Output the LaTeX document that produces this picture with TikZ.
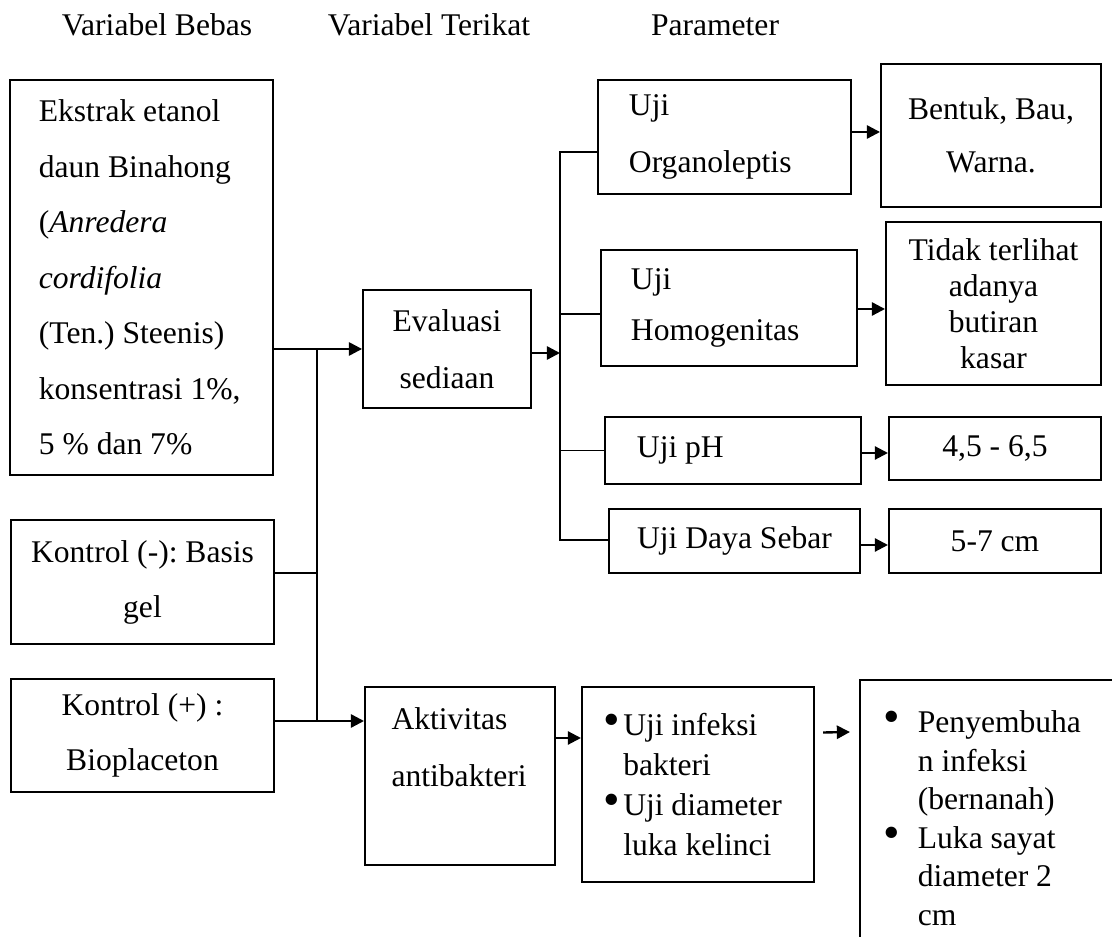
\documentclass[tikz,border=0pt]{standalone}
\usepackage{fontspec}
\setmainfont{Liberation Serif}
\usetikzlibrary{arrows.meta}
\newcommand{\butir}[1]{\makebox[#1][l]{\scalebox{1.5}{\textbullet}}}
\frenchspacing

\begin{document}
\begin{tikzpicture}[x=0.38pt, y=-0.38pt,
  kotak/.style={draw, line width=0.75pt, inner sep=0pt, font=\fontsize{12}{#1}\selectfont},
  kotak/.default=14pt,
  judul/.style={font=\fontsize{12}{14}\selectfont, inner sep=0pt},
  garis/.style={line width=0.6pt},
  panah/.style={line width=0.9pt, -{Triangle[length=5pt,width=5pt]}}]

  \useasboundingbox (0,0) rectangle (1112,937);
  \clip (0,0) rectangle (1112,937);

  % judul kolom
  \node[judul] (hBebas) at (157,25) {Variabel Bebas};
  \node[judul] (hTerikat) at (429,25) {Variabel Terikat};
  \node[judul] (hParam) at (715,25) {Parameter};

  % variabel bebas
  \node[kotak=21.1pt, minimum width=99.9pt, minimum height=150.1pt, text width=78pt, align=flush left] (ekstrak) at (141.5,277.5)
    {Ekstrak etanol\\daun Binahong\\(\textit{Anredera}\\\textit{cordifolia}\\(Ten.) Steenis)\\konsentrasi 1\%,\\5 \% dan 7\%};
  \node[kotak=20.9pt, minimum width=99.9pt, minimum height=47.1pt, align=flush center] (kmin) at (142.5,582) {Kontrol (-): Basis\\gel};
  \node[kotak=20.9pt, minimum width=99.9pt, minimum height=42.9pt, align=flush center] (kplus) at (142.5,735.5) {Kontrol (+) :\\Bioplaceton};

  % variabel terikat
  \node[kotak=21.7pt, minimum width=63.8pt, minimum height=44.8pt, align=flush center] (eval) at (447,349) {Evaluasi\\sediaan};
  \node[kotak=21.7pt, minimum width=72.2pt, minimum height=67.6pt, text width=52pt, align=flush left] (aktiv) at (460,776) {Aktivitas\\antibakteri\\\mbox{}};

  % uji sediaan
  \node[kotak=21.7pt, minimum width=96.1pt, minimum height=43.3pt, text width=72.6pt, align=flush left] (organo) at (724.5,137) {Uji\\Organoleptis};
  \node[kotak=19.4pt, minimum width=97.3pt, minimum height=44.1pt, text width=74.5pt, align=flush left] (homog) at (729,308) {Uji\\Homogenitas};
  \node[kotak, minimum width=97.3pt, minimum height=25.5pt, text width=73pt, align=flush left] (ph) at (733,450.5) {Uji pH};
  \node[kotak, minimum width=95.4pt, minimum height=24.3pt] (sebar) at (734.5,541) {Uji Daya Sebar};
  \node[kotak=15.2pt, minimum width=88.2pt, minimum height=74.1pt, text width=72pt, align=flush left] (ujiinf) at (698,784.5)
    {\butir{7.6pt}Uji infeksi\\\hspace*{7.6pt}bakteri\\\butir{7.6pt}Uji diameter\\\hspace*{7.6pt}luka kelinci};

  % parameter
  \node[kotak=20.1pt, minimum width=83.6pt, minimum height=54.3pt, align=flush center] (bentuk) at (991,135.5) {Bentuk, Bau,\\Warna.};
  \node[kotak=13.7pt, minimum width=81.7pt, minimum height=61.9pt, align=flush center] (tidak) at (993.5,303.5) {Tidak terlihat\\adanya\\butiran\\kasar};
  \node[kotak, minimum width=80.6pt, minimum height=23.9pt] (phres) at (995,448.5) {4,5 - 6,5};
  \node[kotak, minimum width=80.6pt, minimum height=24.3pt] (sebres) at (995,541) {5-7 cm};
  \node[kotak=14.6pt, anchor=north west, text width=110pt, inner xsep=9.1pt, inner ysep=11.8pt, align=flush left] (sembuh) at (859,679)
    {\butir{12.9pt}Penyembuha\\\hspace*{12.9pt}n infeksi\\\hspace*{12.9pt}(bernanah)\\\butir{12.9pt}Luka sayat\\\hspace*{12.9pt}diameter 2\\\hspace*{12.9pt}cm};

  % garis kiri
  \coordinate (sKiri) at (317,721);
  \draw[garis] (ekstrak.east |- eval.west) -- (sKiri |- eval.west) -- (sKiri);
  \draw[garis] (kmin.east |- 0,573) -- (sKiri |- 0,573);
  \draw[garis] (kplus.east |- sKiri) -- (sKiri);
  \draw[panah] (sKiri |- eval.west) -- (eval.west);
  \draw[panah] (sKiri) -- (aktiv.west |- sKiri);

  % garis kanan
  \coordinate (sKanan) at (560,152);
  \draw[garis] (organo.west |- sKanan) -- (sKanan) -- (sKanan |- 0,540) -- (sebar.west |- 0,540);
  \draw[garis] (sKanan |- 0,314) -- (homog.west |- 0,314);
  \draw[garis] (sKanan |- ph.west) -- (ph.west);
  \draw[panah] (eval.east |- 0,353) -- (sKanan |- 0,353);

  % panah ke parameter
  \draw[panah] (organo.east |- 0,132) -- (bentuk.west |- 0,132);
  \draw[panah] (homog.east |- 0,309) -- (tidak.west |- 0,309);
  \draw[panah] (ph.east |- 0,453) -- (phres.west |- 0,453);
  \draw[panah] (sebar.east |- 0,545) -- (sebres.west |- 0,545);
  \draw[panah] (aktiv.east |- 0,738) -- (ujiinf.west |- 0,738);
  \draw[panah] ([shift={(8,-52)}]ujiinf.east) -- ([shift={(-9,53)}]sembuh.north west);

\end{tikzpicture}
\end{document}
